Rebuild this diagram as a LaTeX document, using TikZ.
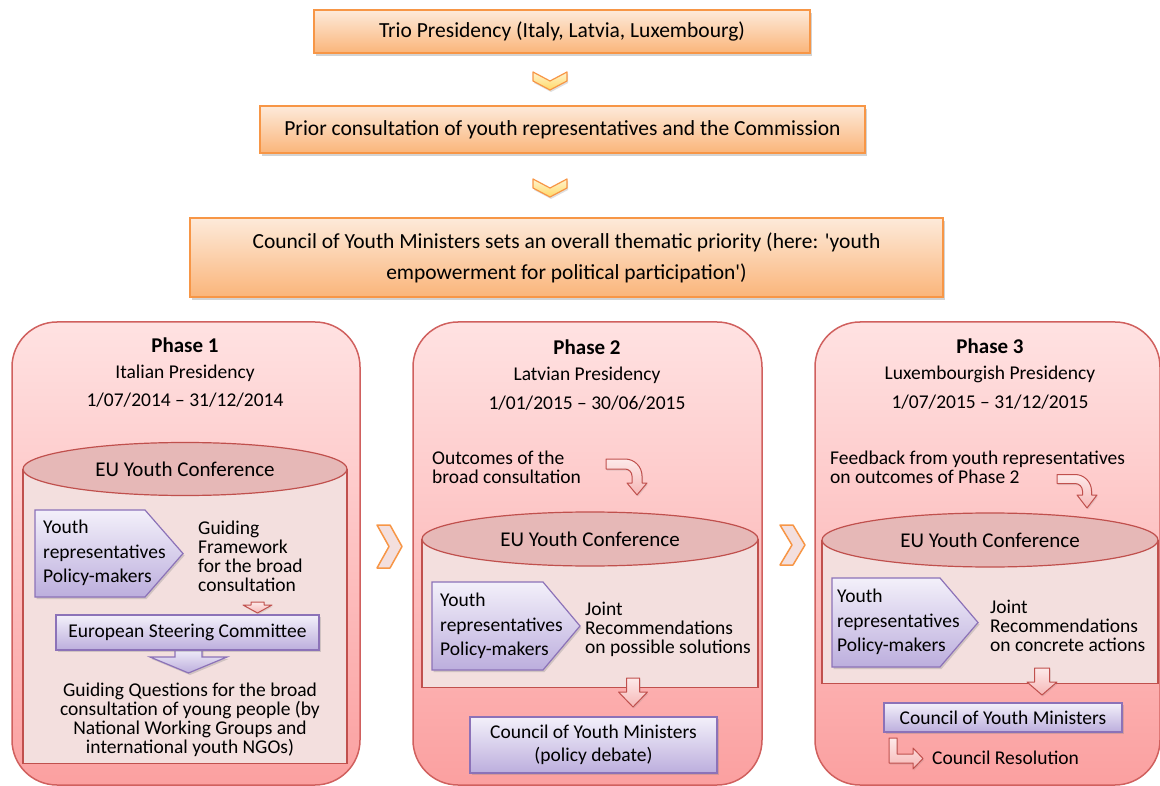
\documentclass[tikz,border=0pt]{standalone}
\usepackage{fontspec}
\setmainfont{Carlito}
\usetikzlibrary{shapes.geometric,shadows}
\definecolor{orangeline}{HTML}{F79646}
\definecolor{orangetop}{HTML}{FDEADA}
\definecolor{orangebot}{HTML}{FAB57A}
\definecolor{chevtop}{HTML}{FFF4CF}
\definecolor{chevbot}{HTML}{FFD966}
\definecolor{phaseline}{HTML}{D0605E}
\definecolor{phasetop}{HTML}{FFE2E2}
\definecolor{phasebot}{HTML}{FBA0A0}
\definecolor{cylfill}{HTML}{F3DFDE}
\definecolor{cylendfill}{HTML}{E6B8B7}
\definecolor{cylline}{HTML}{C0504D}
\definecolor{purpleline}{HTML}{8C72B8}
\definecolor{purpletop}{HTML}{F3F0FA}
\definecolor{purplebot}{HTML}{BCAEDD}
\definecolor{arrowtop}{HTML}{FDE9E9}
\definecolor{arrowbot}{HTML}{F6B7B6}
\begin{document}
\begin{tikzpicture}[x=1pt,y=1pt,font=\fontsize{19.5}{19}\selectfont]
      \tikzstyle{every node}+=[inner sep=0pt]
      \tikzstyle{topbox}=[draw=orangeline, line width=1.2pt, top color=orangetop, bottom color=orangebot, drop shadow={opacity=0.35,shadow xshift=1.5pt,shadow yshift=-3pt}, font=\fontsize{21.5}{31}\selectfont, align=center]
      \tikzstyle{chevron}=[draw=orangeline, line width=1.2pt, line join=round, top color=chevtop, bottom color=chevbot, drop shadow={opacity=0.25,shadow xshift=1pt,shadow yshift=-2pt}]
      \tikzstyle{sidechevron}=[draw=orangeline, line width=1.5pt, line join=round, fill=cylfill]
      \tikzstyle{phasebox}=[draw=phaseline, line width=1.5pt, rounded corners=45pt, top color=phasetop, bottom color=phasebot]
      \tikzstyle{cylbody}=[draw=cylline, line width=1.2pt, fill=cylfill]
      \tikzstyle{cylend}=[draw=cylline, line width=1.2pt, fill=cylendfill, ellipse, font=\fontsize{21}{24}\selectfont]
      \tikzstyle{purplebox}=[draw=purpleline, line width=1.2pt, top color=purpletop, bottom color=purplebot, drop shadow={opacity=0.3,shadow xshift=1.5pt,shadow yshift=-2pt}]
      \tikzstyle{pinkarrow}=[draw=cylline, line width=1pt, line join=round, top color=arrowtop, bottom color=arrowbot, drop shadow={opacity=0.2,shadow xshift=1pt,shadow yshift=-1.5pt}]
      \tikzstyle{actors}=[anchor=west, align=left, font=\fontsize{19.5}{24.5}\selectfont]
      \useasboundingbox (0,0) rectangle (1160,-786);
      \node [topbox, minimum width=496, minimum height=43] (trio) at (562,-31.5) {Trio Presidency (Italy, Latvia, Luxembourg)};
      \draw [chevron] (533,-72) -- (550,-81) -- (567,-72) -- (567,-81) -- (550,-90) -- (533,-81) -- cycle;
      \node [topbox, minimum width=605, minimum height=47] (prior) at (562.5,-129.5) {Prior consultation of youth representatives and the Commission};
      \draw [chevron] (533,-179) -- (550,-188) -- (567,-179) -- (567,-188) -- (550,-197) -- (533,-188) -- cycle;
      \node [topbox, minimum width=753, minimum height=79] (priority) at (566.5,-257.5) {Council of Youth Ministers sets an overall thematic priority (here: \textquotesingle youth\\empowerment for political participation\textquotesingle)};
      \node [phasebox, minimum width=348, minimum height=463] (phase1) at (186,-553.5) {};
      \node [phasebox, minimum width=349, minimum height=463] (phase2) at (587.5,-553.5) {};
      \node [phasebox, minimum width=345, minimum height=463] (phase3) at (987.5,-553.5) {};
      \draw [sidechevron] (377,-525) -- (390,-525) -- (402,-546.5) -- (390,-568) -- (377,-568) -- (389,-546.5) -- cycle;
      \draw [sidechevron] (780,-525) -- (793,-525) -- (805,-545) -- (793,-565) -- (780,-565) -- (792,-545) -- cycle;
      \node [font=\bfseries\fontsize{21}{24}\selectfont] (title1) at (185,-345) {Phase 1};
      \node (pres1) at (185,-373) {Italian Presidency};
      \node (date1) at (185,-400) {1/07/2014 – 31/12/2014};
      \node [font=\bfseries\fontsize{21}{24}\selectfont] (title2) at (587,-347) {Phase 2};
      \node (pres2) at (587,-375) {Latvian Presidency};
      \node (date2) at (587,-403) {1/01/2015 – 30/06/2015};
      \node [font=\bfseries\fontsize{21}{24}\selectfont] (title3) at (990,-346) {Phase 3};
      \node (pres3) at (990,-374) {Luxembourgish Presidency};
      \node (date3) at (990,-402) {1/07/2015 – 31/12/2015};
      \node [cylbody, minimum width=324, minimum height=294, anchor=north] (body1) at (185,-469) {};
      \node [cylend, minimum width=324, minimum height=53] (conf1) at (185,-469) {EU Youth Conference};
      \node [anchor=west, align=left] (out1) at (432,-467.5) {Outcomes of the\\broad consultation};
      \draw [pinkarrow] (606,-459) -- (625,-459) arc [start angle=90, end angle=0, radius=17] -- (642,-483) -- (647,-483) -- (637,-495) -- (627,-483) -- (632,-483) -- (632,-476) arc [start angle=0, end angle=90, radius=7] -- (606,-469) -- cycle;
      \node [cylbody, minimum width=336, minimum height=148, anchor=north] (body2) at (590,-539) {};
      \node [cylend, minimum width=336, minimum height=54] (conf2) at (590,-539) {EU Youth Conference};
      \node [anchor=west, align=left] (feed3) at (830,-467.5) {Feedback from youth representatives\\on outcomes of Phase 2};
      \draw [pinkarrow] (1057,-474.5) -- (1075,-474.5) arc [start angle=90, end angle=0, radius=16.5] -- (1091.5,-495) -- (1097,-495) -- (1087,-508) -- (1077,-495) -- (1082.5,-495) -- (1082.5,-491) arc [start angle=0, end angle=90, radius=7.5] -- (1057,-483.5) -- cycle;
      \node [cylbody, minimum width=336, minimum height=143, anchor=north] (body3) at (990,-540) {};
      \node [cylend, minimum width=336, minimum height=54] (conf3) at (990,-540) {EU Youth Conference};
      \draw [purplebox] (35,-510) -- (145,-510) -- (183,-553.5) -- (145,-597) -- (35,-597) -- cycle;
      \node [actors] (actors1) at (43,-553) {Youth\\representatives\\Policy-makers};
      \node [anchor=west, align=left] (frame1) at (198,-556.5) {Guiding\\Framework\\for the broad\\consultation};
      \draw [pinkarrow] (251,-602) -- (264,-602) -- (264,-605) -- (272,-605) -- (257.5,-613) -- (243,-605) -- (251,-605) -- cycle;
      \draw [purplebox] (175,-648) -- (202,-648) -- (202,-657) -- (227,-657) -- (188.5,-673) -- (150,-657) -- (175,-657) -- cycle;
      \node [purplebox, minimum width=263, minimum height=35] (steer1) at (187.5,-632.5) {European Steering Committee};
      \node [align=center] (quest1) at (190,-720) {Guiding Questions for the broad\\consultation of young people (by\\National Working Groups and\\international youth NGOs)};
      \draw [purplebox] (432,-582) -- (543,-582) -- (580,-626) -- (543,-670) -- (432,-670) -- cycle;
      \node [actors] (actors2) at (440,-626) {Youth\\representatives\\Policy-makers};
      \node [anchor=west, align=left] (joint2) at (585,-629) {Joint\\Recommendations\\on possible solutions};
      \draw [pinkarrow] (626.5,-678) -- (639.5,-678) -- (639.5,-692) -- (647.5,-692) -- (633,-707) -- (618.5,-692) -- (626.5,-692) -- cycle;
      \node [purplebox, minimum width=247, minimum height=56, align=center, font=\fontsize{19.5}{23}\selectfont] (council2) at (593.5,-745) {Council of Youth Ministers\\(policy debate)};
      \draw [purplebox] (832,-578) -- (940,-578) -- (978,-622.5) -- (940,-667) -- (832,-667) -- cycle;
      \node [actors] (actors3) at (837,-622) {Youth\\representatives\\Policy-makers};
      \node [anchor=west, align=left] (joint3) at (990,-626) {Joint\\Recommendations\\on concrete actions};
      \draw [pinkarrow] (1034.5,-668) -- (1049.5,-668) -- (1049.5,-682) -- (1057,-682) -- (1042,-695) -- (1027,-682) -- (1034.5,-682) -- cycle;
      \node [purplebox, minimum width=238, minimum height=29] (council3) at (1003,-717.5) {Council of Youth Ministers};
      \draw [pinkarrow] (889,-738) -- (897,-738) -- (897,-754) -- (913,-754) -- (913,-748) -- (923,-758.5) -- (913,-769) -- (913,-763) -- (889,-763) -- cycle;
      \node [anchor=west] (resol3) at (932,-758) {Council Resolution};
\end{tikzpicture}
\end{document}
